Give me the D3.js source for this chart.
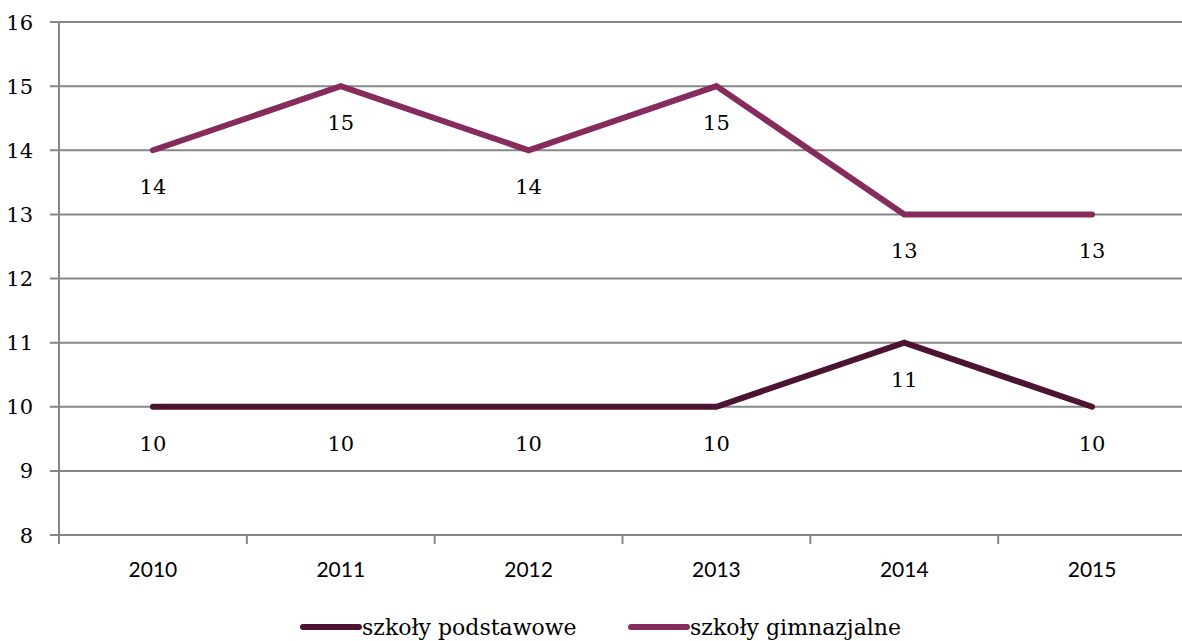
<!DOCTYPE html>
<html>
<head>
<meta charset="utf-8">
<script src="https://cdn.jsdelivr.net/npm/d3@7"></script>
<style>
  body { margin: 0; background: #fff; }
  svg { display: block; }
</style>
</head>
<body>
<div id="chart"></div>
<script>
// data
const years = ['2010', '2011', '2012', '2013', '2014', '2015']
const podstawowe = [10, 10, 10, 10, 11, 10]
const gimnazjalne = [14, 15, 14, 15, 13, 13]
const seriesNames = ['szkoły podstawowe', 'szkoły gimnazjalne']
const yTicks = [8, 9, 10, 11, 12, 13, 14, 15, 16]

const colors = ['#4b1432', '#852c5c']
const serifFont = 'DejaVu Serif'
const sansFont = 'Lato'

const width = 1182
const height = 641
const margin = { top: 22, right: -4, bottom: 106, left: 59 }

const svg = d3.select('#chart')
    .append('svg')
    .attr('width', width)
    .attr('height', height)

const g = svg.append('g')
    .attr('transform', `translate(${margin.left}, ${margin.top})`)

const innerW = width - margin.left - margin.right
const innerH = height - margin.top - margin.bottom

const xScale = d3.scaleBand().domain(years).range([0, innerW])
const yScale = d3.scaleLinear().domain([8, 16]).range([innerH, 0])

// gridlines
g.append('g')
    .selectAll('line')
    .data(yTicks)
    .enter()
    .append('line')
    .attr('x1', -9)
    .attr('x2', innerW)
    .attr('y1', d => yScale(d))
    .attr('y2', d => yScale(d))
    .attr('stroke', '#868686')
    .attr('stroke-width', 2)

// y axis
g.append('line')
    .attr('x1', 0).attr('x2', 0)
    .attr('y1', 0).attr('y2', innerH + 9)
    .attr('stroke', '#868686')
    .attr('stroke-width', 2)

g.append('g')
    .selectAll('text')
    .data(yTicks)
    .enter()
    .append('text')
    .attr('font-family', serifFont)
    .attr('x', -26)
    .attr('y', d => yScale(d))
    .attr('dy', '0.36em')
    .attr('text-anchor', 'end')
    .attr('font-size', 21)
    .attr('fill', '#000')
    .text(d => d)

// x axis ticks at band edges
const edges = years.map(y => xScale(y)).concat([innerW])
g.append('g')
    .selectAll('line')
    .data(edges)
    .enter()
    .append('line')
    .attr('x1', d => d).attr('x2', d => d)
    .attr('y1', innerH).attr('y2', innerH + 9)
    .attr('stroke', '#868686')
    .attr('stroke-width', 2)

g.append('g')
    .selectAll('text')
    .data(years)
    .enter()
    .append('text')
    .attr('font-family', sansFont)
    .attr('x', d => xScale(d) + xScale.bandwidth() / 2)
    .attr('y', innerH + 42)
    .attr('text-anchor', 'middle')
    .attr('font-size', 21)
    .attr('fill', '#000')
    .text(d => d)

// lines
const line = d3.line()
    .x((d, i) => xScale(years[i]) + xScale.bandwidth() / 2)
    .y(d => yScale(d))

const allSeries = [podstawowe, gimnazjalne]

allSeries.forEach((s, k) => {
    g.append('path')
        .datum(s)
        .attr('fill', 'none')
        .attr('stroke', colors[k])
        .attr('stroke-width', 6)
        .attr('stroke-linecap', 'round')
        .attr('stroke-linejoin', 'miter')
        .attr('d', line)

    g.append('g')
        .selectAll('text')
        .data(s)
        .enter()
        .append('text')
        .attr('font-family', serifFont)
        .attr('x', (d, i) => xScale(years[i]) + xScale.bandwidth() / 2)
        .attr('y', d => yScale(d) + 44)
        .attr('text-anchor', 'middle')
        .attr('font-size', 21)
        .attr('fill', '#000')
        .text(d => d)
})

// legend
const legendX = [303, 631]
const legend = svg.append('g')
seriesNames.forEach((name, k) => {
    legend.append('line')
        .attr('x1', legendX[k]).attr('x2', legendX[k] + 56)
        .attr('y1', 627).attr('y2', 627)
        .attr('stroke', colors[k])
        .attr('stroke-width', 6)
        .attr('stroke-linecap', 'round')
    legend.append('text')
        .attr('font-family', serifFont)
        .attr('x', legendX[k] + 59)
        .attr('y', 635)
        .attr('font-size', 22)
        .attr('fill', '#000')
        .text(name)
})
</script>
</body>
</html>
